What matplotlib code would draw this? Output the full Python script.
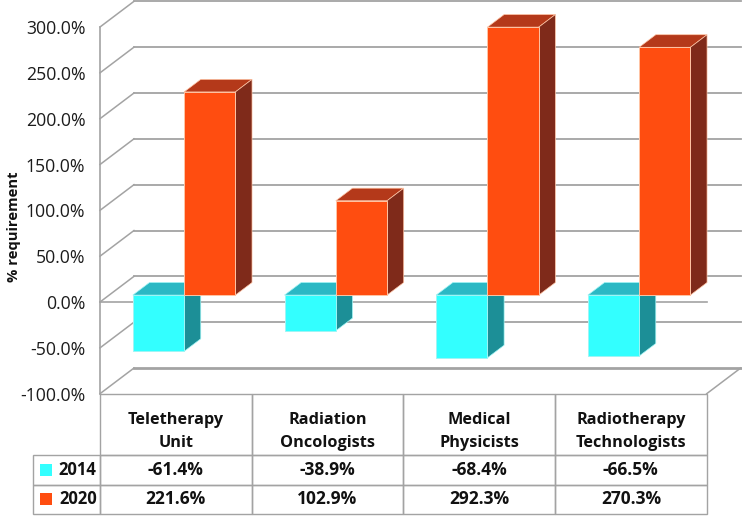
"""3D style clustered bars with a data table underneath, drawn on a flat axes."""

from __future__ import annotations

import matplotlib

matplotlib.use("Agg")
import matplotlib.pyplot as plt
from matplotlib.patches import Polygon

plt.rcParams["font.family"] = ["Open Sans", "DejaVu Sans"]

CATEGORIES = ["Teletherapy\nUnit", "Radiation\nOncologists", "Medical\nPhysicists", "Radiotherapy\nTechnologists"]
SERIES_NAMES = ["2014", "2020"]
VALUES_2014 = [-61.4, -38.9, -68.4, -66.5]
VALUES_2020 = [221.6, 102.9, 292.3, 270.3]
Y_TICKS = [-100, -50, 0, 50, 100, 150, 200, 250, 300]

W, H = 742, 516
LEFT, RIGHT, TOP, BOTTOM = 100, 706.7, 27, 393.7

# wall depth, in data units (x categories, y percent)
DEPTH_X = 0.224
DEPTH_Y = 28.0
BAR_Z0, BAR_Z1 = 0.27, 0.76
BAR_W = 0.338

GRID = "#a3a3a3"
TEXT = "#1c1c1c"
CYAN = ("#33ffff", "#2bb8c4", "#1c8f97")
ORANGE = ("#ff4d10", "#b4391a", "#7f2a1a")
EDGE = "#ffc4a4"


def project(x, v, z):
    return x + z * DEPTH_X, v + z * DEPTH_Y


def draw_walls(ax):
    for tick in Y_TICKS:
        back_left = project(0, tick, 1)
        back_right = project(4, tick, 1)
        lw = 2.0 if tick == -100 else 1.3
        ax.plot([0, back_left[0]], [tick, back_left[1]], color=GRID, lw=1.1, zorder=1, clip_on=False)
        ax.plot([back_left[0], back_right[0]], [back_left[1], back_right[1]], color=GRID, lw=lw, zorder=1, clip_on=False)
    ax.plot([0, 4], [0, 0], color=GRID, lw=1.2, zorder=1.5, clip_on=False)
    corner = project(4, -100, 1)
    ax.plot([4, corner[0]], [-100, corner[1]], color=GRID, lw=1.1, zorder=1, clip_on=False)


def draw_bar(ax, x0, value, colors, edge, zorder):
    x1 = x0 + BAR_W
    front, top, side = colors
    fx, base = project(x0, 0, BAR_Z0)
    ax.bar(fx, value, BAR_W, bottom=base, align="edge", color=front, edgecolor=edge, linewidth=0.7,
           zorder=zorder + 0.2, clip_on=False)
    top_pts = [project(x0, value if value > 0 else 0, BAR_Z0), project(x1, value if value > 0 else 0, BAR_Z0),
               project(x1, value if value > 0 else 0, BAR_Z1), project(x0, value if value > 0 else 0, BAR_Z1)]
    side_pts = [project(x1, 0, BAR_Z0), project(x1, value, BAR_Z0), project(x1, value, BAR_Z1), project(x1, 0, BAR_Z1)]
    ax.add_patch(Polygon(top_pts, facecolor=top, edgecolor=edge, linewidth=0.5, zorder=zorder, clip_on=False))
    ax.add_patch(Polygon(side_pts, facecolor=side, edgecolor=edge, linewidth=0.5, zorder=zorder + 0.1, clip_on=False))


def draw_table(ax):
    rows = [[name] + [f"{v:.1f}%" for v in vals] for name, vals in zip(SERIES_NAMES, [VALUES_2014, VALUES_2020])]
    x0 = (33.5 - LEFT) / (RIGHT - LEFT)
    h = (514.3 - BOTTOM) / (BOTTOM - TOP)
    table = ax.table(cellText=rows, colLabels=[""] * 5, cellLoc="center", colWidths=[-x0] + [0.25] * 4,
                     bbox=[x0, -h, 1 - x0, h], zorder=2)
    table.auto_set_font_size(False)
    table.set_fontsize(12.5)
    for (row, col), cell in table.get_celld().items():
        cell.set_edgecolor(GRID)
        cell.set_linewidth(1.0)
        cell.set_facecolor("none")
        cell.get_text().set_fontweight("bold")
        cell.get_text().set_color("#111111")
        cell.set_height(61.3 if row == 0 else 29.6)
        if col == 0:
            cell.PAD = 0.05
            cell.set_text_props(ha="right", fontsize=12)
    table[(0, 0)].set_visible(False)


def main():
    fig = plt.figure(figsize=(W / 100, H / 100), dpi=100)
    ax = fig.add_axes([LEFT / W, 1 - BOTTOM / H, (RIGHT - LEFT) / W, (BOTTOM - TOP) / H])
    ax.set_xlim(0, 4)
    ax.set_ylim(-100, 300)
    for name in ["top", "right", "bottom"]:
        ax.spines[name].set_visible(False)
    ax.spines["left"].set_color(GRID)
    ax.spines["left"].set_linewidth(1.2)

    ax.set_yticks(Y_TICKS)
    ax.set_yticklabels([f"{t:.1f}%" for t in Y_TICKS], fontsize=12.7, color=TEXT)
    ax.tick_params(axis="y", length=0, pad=10.5)
    ax.set_xticks([i + 0.5 for i in range(4)])
    ax.set_xticklabels(CATEGORIES, fontsize=11.7, fontweight="bold", color="#111111", linespacing=1.55)
    ax.tick_params(axis="x", length=0, pad=13.5)
    ax.set_ylabel("% requirement", fontsize=10.6, fontweight="bold", color="#111111")
    ax.yaxis.set_label_coords(-0.131, 0.455)

    draw_walls(ax)
    for i, low in enumerate(VALUES_2014):
        draw_bar(ax, i + 0.156, low, CYAN, "#9ff5f5", 4 + i)
    for i, high in enumerate(VALUES_2020):
        draw_bar(ax, i + 0.156 + BAR_W, high, ORANGE, EDGE, 9 + i)

    draw_table(ax)

    # legend keys sit inside the row label cells
    key_ax = fig.add_axes([0, 0, 1, 1], facecolor="none")
    key_ax.set_xlim(0, W)
    key_ax.set_ylim(H, 0)
    key_ax.axis("off")
    for y, color in zip([469.5, 499], [CYAN[0], ORANGE[0]]):
        key_ax.scatter([45.5], [y], marker="s", s=70, color=color, linewidths=0)

    fig.savefig("out.png", dpi=100)
    plt.close(fig)


if __name__ == "__main__":
    main()
